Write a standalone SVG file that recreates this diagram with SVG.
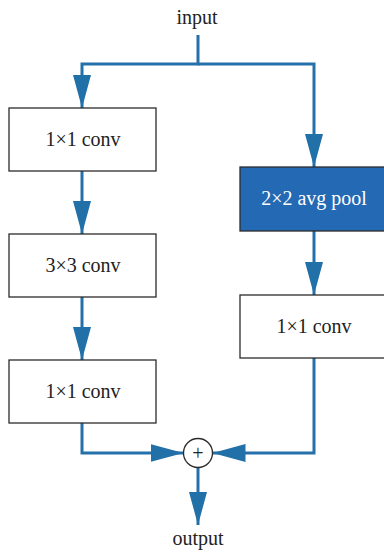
<svg xmlns="http://www.w3.org/2000/svg" width="384" height="556" viewBox="0 0 384 556">
<style>
.box{fill:#fff;stroke:#2b2b2b;stroke-width:1.3}
.t{font-family:"Liberation Serif","Times New Roman",serif;font-size:20px;fill:#222;text-anchor:middle}
.w{fill:#fff}
.c{fill:none;stroke:#2470aa;stroke-width:3}
</style>
<defs>
<marker id="ah" markerUnits="userSpaceOnUse" markerWidth="34" markerHeight="18" refX="33" refY="9" orient="auto">
<path d="M0,0 L33,9 L0,18 Z" fill="#2270a8"/>
</marker>
</defs>
<g id="connectors">
<path class="c" d="M198,35 V64 H82 V108" marker-end="url(#ah)"/>
<path class="c" d="M198,64 H314 V167" marker-end="url(#ah)"/>
<path class="c" d="M82,171 V234" marker-end="url(#ah)"/>
<path class="c" d="M82,297 V360" marker-end="url(#ah)"/>
<path class="c" d="M314,231 V295" marker-end="url(#ah)"/>
<path class="c" d="M82,423 V453 H183.5" marker-end="url(#ah)"/>
<path class="c" d="M314,358 V453 H212.5" marker-end="url(#ah)"/>
<path class="c" d="M198,467.5 V525" marker-end="url(#ah)"/>
</g>
<g id="input"><text class="t" x="197" y="24">input</text></g>
<g id="conv1"><rect class="box" x="9" y="108" width="147" height="63"/><text class="t" x="83" y="146">1×1 conv</text></g>
<g id="conv3"><rect class="box" x="9" y="234" width="147" height="63"/><text class="t" x="83" y="272">3×3 conv</text></g>
<g id="conv1b"><rect class="box" x="9" y="360" width="147" height="63"/><text class="t" x="83" y="398">1×1 conv</text></g>
<g id="pool"><rect x="240" y="167" width="146" height="64" fill="#2469b3" stroke="#2b2b2b" stroke-width="1.3"/><text class="t w" x="314" y="205">2×2 avg pool</text></g>
<g id="conv1r"><rect class="box" x="240" y="295" width="146" height="63"/><text class="t" x="314" y="333">1×1 conv</text></g>
<g id="add"><circle cx="198" cy="453" r="14.5" fill="#fff" stroke="#2b2b2b" stroke-width="1.3"/><text class="t" x="198" y="460" style="font-size:20px">+</text></g>
<g id="output"><text class="t" x="198" y="545">output</text></g>
</svg>
